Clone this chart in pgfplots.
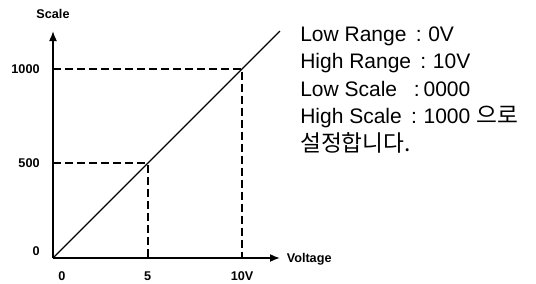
\documentclass[border=0pt]{standalone}
\usepackage{pgfplots}
\pgfplotsset{compat=1.18}
\usetikzlibrary{arrows.meta}
\usepackage{fontspec}
\setmainfont{Liberation Sans}
\newfontfamily\kr{Noto Sans CJK KR}
\begin{document}
\begin{tikzpicture}
\begin{axis}[
  name=ax,
  scale only axis, width=170.25pt, height=170.25pt,
  xmin=0, xmax=12, ymin=0, ymax=1200,
  axis lines=left,
  axis line style={line width=1.2pt},
  x axis line style={-{Latex[length=7.5pt,width=6pt]}},
  y axis line style={-{Latex[length=7.5pt,width=6pt]}},
  xtick={0,5,10}, xticklabels={\hspace*{13.5pt}0,5,10V},
  ytick={0,500,1000}, yticklabels={\raisebox{10.5pt}{0},500,1000},
  major tick length=0pt,
  tick label style={font=\fontsize{9.5}{11}\selectfont\bfseries},
  xticklabel style={yshift=-6.5pt},
  yticklabel style={xshift=-6.5pt},
  xlabel={Voltage}, ylabel={Scale},
  every axis x label/.style={at={(axis description cs:1.009,0)}, anchor=base west, yshift=-3.4pt, font=\fontsize{9.5}{11}\selectfont\bfseries},
  every axis y label/.style={at={(axis description cs:0,1.075)}, anchor=center, font=\fontsize{9.5}{11}\selectfont\bfseries},
  clip=false,
]
\addplot[black, line width=0.8pt] coordinates {(0,0) (12,1200)};
\addplot[black, line width=1.4pt, dash pattern=on 6pt off 3pt] coordinates {(0,1000) (10,1000) (10,0)};
\addplot[black, line width=1.4pt, dash pattern=on 6pt off 3pt] coordinates {(0,500) (5,500) (5,0)};
\end{axis}
\begin{scope}[every node/.style={anchor=base west, inner sep=0pt, font=\fontsize{15.75}{19}\selectfont}]
\node at ([shift={(185.25pt,162.75pt)}]ax.south west) {Low Range\hspace{7pt}:\hspace{5pt}0V};
\node at ([shift={(185.25pt,142.1pt)}]ax.south west) {High Range\hspace{7pt}:\hspace{5pt}10V};
\node at ([shift={(185.25pt,121.5pt)}]ax.south west) {Low Scale\hspace{12.5pt}:\hspace{3pt}0000};
\node at ([shift={(185.25pt,100.9pt)}]ax.south west) {High Scale\hspace{7pt}:\hspace{5pt}1000 {\kr\fontsize{17}{19}\selectfont 으로}};
\node at ([shift={(185.25pt,80.25pt)}]ax.south west) {\kr\fontsize{17}{19}\selectfont 설정합니다.};
\end{scope}
\pgfresetboundingbox
\path[use as bounding box] ([shift={(-39.75pt,-18.75pt)}]ax.south west) rectangle ++(402pt,212.25pt);
\end{tikzpicture}
\end{document}
